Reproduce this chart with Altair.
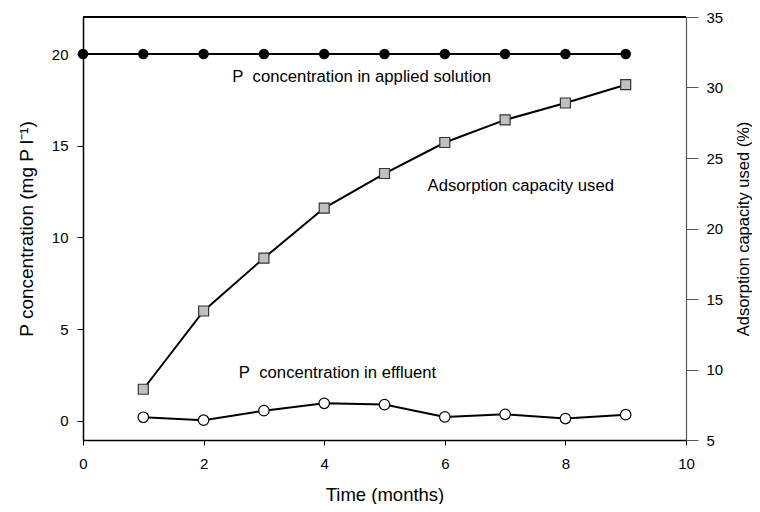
import altair as alt
import pandas as pd

# ---- data ----
applied_months = [0, 1, 2, 3, 4, 5, 6, 7, 8, 9]
applied_conc = [20, 20, 20, 20, 20, 20, 20, 20, 20, 20]

months = [1, 2, 3, 4, 5, 6, 7, 8, 9]
effluent_conc = [0.20, 0.04, 0.56, 0.96, 0.89, 0.22, 0.36, 0.13, 0.34]
adsorption_used = [8.6, 14.15, 17.9, 21.45, 23.9, 26.1, 27.7, 28.9, 30.2]

label_text = ["P\u00a0 concentration in applied solution",
              "Adsorption capacity used",
              "P\u00a0 concentration in effluent"]
label_x = [4.62, 7.26, 4.22]
label_y = [18.75, 12.82, 2.63]

x_ticks = [0, 2, 4, 6, 8, 10]
left_ticks = [0, 5, 10, 15, 20]
right_ticks = [5, 10, 15, 20, 25, 30, 35]

W, H = 603, 423
FONT = "Liberation Sans"

applied_df = pd.DataFrame({"t": applied_months, "v": applied_conc})
eff_df = pd.DataFrame({"t": months, "v": effluent_conc})
ads_df = pd.DataFrame({"t": months, "v": adsorption_used})
lab_df = pd.DataFrame({"t": label_x, "v": label_y, "txt": label_text})

xs = alt.Scale(domain=[0, 10], nice=False, zero=False)
yl = alt.Scale(domain=[-1.04, 22.02], nice=False, zero=False)
yr = alt.Scale(domain=[5, 35], nice=False, zero=False)

x_axis = alt.Axis(values=x_ticks, title="Time (months)", grid=False,
                  tickSize=5, labelPadding=11, labelFlush=False,
                  titleX=W / 2, titleY=54, titleAlign="center", titleBaseline="middle",
                  titleFontSize=18.5,
                  domainColor="black", domainWidth=1.5, tickColor="black",
                  format="d")
yl_axis = alt.Axis(values=left_ticks, title="P concentration (mg P l⁻¹)",
                   grid=False, tickSize=6, labelPadding=9, labelFlush=False,
                   titleX=-57, titleY=H / 2, titleAngle=270,
                   titleAlign="center", titleBaseline="middle", titleFontSize=19,
                   domainColor="black", domainWidth=1.5, tickColor="black",
                   format="d")
yr_axis = alt.Axis(values=right_ticks, title="Adsorption capacity used (%)",
                   orient="right", grid=False, tickSize=12, labelPadding=8,
                   labelFlush=False,
                   titleX=57, titleY=H / 2, titleAngle=270,
                   titleAlign="center", titleBaseline="middle", titleFontSize=16.5,
                   domainColor="#555555", domainWidth=1.2, tickColor="#555555",
                   format="d")

X = alt.X("t:Q", scale=xs, axis=x_axis)
YL = alt.Y("v:Q", scale=yl, axis=yl_axis)
YR = alt.Y("v:Q", scale=yr, axis=yr_axis)

applied_line = alt.Chart(applied_df).mark_line(color="black", strokeWidth=2).encode(x=X, y=YL)
applied_pts = alt.Chart(applied_df).mark_point(filled=True, color="black", size=110, opacity=1).encode(x=X, y=YL)
eff_line = alt.Chart(eff_df).mark_line(color="black", strokeWidth=2).encode(x=X, y=YL)
eff_pts = alt.Chart(eff_df).mark_point(shape="circle", fill="white", stroke="black",
                                       strokeWidth=1.2, size=110, opacity=1, fillOpacity=1).encode(x=X, y=YL)
labels = alt.Chart(lab_df).mark_text(font=FONT, fontSize=16.7, color="black",
                                     align="center", baseline="middle").encode(x=X, y=YL, text="txt:N")
top_rule = alt.Chart(applied_df).mark_rule(color="black", strokeWidth=1.5).encode(
    x=alt.value(0), x2=alt.value(W), y=alt.value(0))

left = alt.layer(top_rule, applied_line, applied_pts, eff_line, eff_pts, labels)

ads_line = alt.Chart(ads_df).mark_line(color="black", strokeWidth=2).encode(x=X, y=YR)
ads_pts = alt.Chart(ads_df).mark_point(shape="square", fill="#c0c0c0", stroke="#333333",
                                       strokeWidth=1.2, size=100, opacity=1, fillOpacity=1).encode(x=X, y=YR)
right = alt.layer(ads_line, ads_pts)

chart = alt.layer(left, right).resolve_scale(y="independent").properties(
    width=W, height=H,
    autosize=alt.AutoSizeParams(type="none"),
    padding={"left": 75, "top": 9, "right": 66, "bottom": 64},
).configure_view(stroke=None).configure_axis(
    labelFont=FONT, labelFontSize=15, labelColor="black",
    titleFont=FONT, titleFontWeight="normal", titleColor="black",
)

chart.save("out.html", embed_options={"renderer": "svg", "actions": False})
